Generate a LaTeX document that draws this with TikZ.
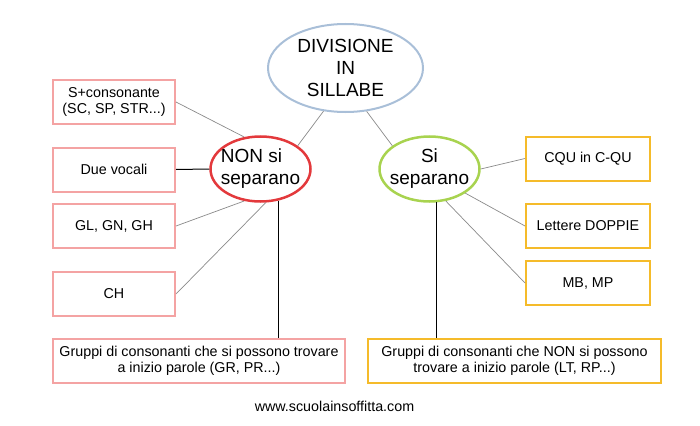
\documentclass[tikz,border=0pt]{standalone}
\usepackage{fontspec}
\setmainfont{Liberation Sans}
\usetikzlibrary{shapes.geometric}
\definecolor{azzurro}{HTML}{A9BFD8}
\definecolor{rosso}{HTML}{E3393C}
\definecolor{verde}{HTML}{A8D34F}
\definecolor{rosa}{HTML}{F4A3A3}
\definecolor{giallo}{HTML}{F5BB2A}
\definecolor{grigio}{HTML}{8A8A8A}
\begin{document}
\begin{tikzpicture}[x=1pt,y=-1pt]
    \tikzstyle{every node}=[inner sep=0pt, align=center, font=\fontsize{14.3}{16}\selectfont]
    \tikzstyle{bolla}=[ellipse, inner sep=-8pt, line width=2.5pt, minimum width=100pt, minimum height=65pt, font=\fontsize{19}{22}\selectfont]
    \tikzstyle{rosa}=[draw=rosa, line width=2pt, minimum width=122pt, minimum height=44pt]
    \tikzstyle{giallo}=[draw=giallo, line width=2pt, minimum width=124pt, minimum height=44pt]
    \tikzstyle{filo}=[draw=grigio, line width=0.7pt]
    \tikzstyle{asta}=[draw=black, line width=1pt]
    \useasboundingbox (0,0) rectangle (700,425);
    % ellissi
    \node[bolla, draw=azzurro, line width=2pt, minimum width=155pt, minimum height=88pt] (divisione) at (345.5,68) {DIVISIONE\\IN\\SILLABE};
    \node[bolla, draw=rosso, align=left] (non) at (260.5,169) {NON si\\separano};
    \node[bolla, draw=verde] (si) at (429.5,169) {Si\\separano};
    % riquadri a sinistra
    \node[rosa] (scons) at (114,102) {S+consonante\\(SC, SP, STR...)};
    \node[rosa] (vocali) at (114,169.5) {Due vocali};
    \node[rosa] (gl) at (114,226) {GL, GN, GH};
    \node[rosa] (ch) at (114,294) {CH};
    \node[rosa, minimum width=292pt] (gruppisi) at (199,361) {Gruppi di consonanti che si possono trovare\\a inizio parole (GR, PR...)};
    % riquadri a destra
    \node[giallo] (cqu) at (588,158.5) {CQU in C-QU};
    \node[giallo] (doppie) at (588,226) {Lettere DOPPIE};
    \node[giallo] (mb) at (588,283) {MB, MP};
    \node[giallo, minimum width=293pt] (gruppinon) at (514.5,361) {Gruppi di consonanti che NON si possono\\trovare a inizio parole (LT, RP...)};
    \node (sito) at (334.5,406) {www.scuolainsoffitta.com};
    % collegamenti
    \draw[filo] (divisione.243) -- (non.32);
    \draw[filo] (divisione.296) -- (si.148);
    \draw[filo] (scons.east) -- (non.117);
    \draw[asta] (vocali.east) -- (non.west);
    \draw[filo] (gl.east) -- (non.243);
    \draw[filo] (ch.east) -- (non.279);
    \draw[asta] (non.300) -- (non.300 |- gruppisi.north);
    \draw[filo] (si.east) -- (cqu.west);
    \draw[filo] (si.326) -- (doppie.west);
    \draw[filo] (si.297) -- (mb.west);
    \draw[asta] (si.281) -- (si.281 |- gruppinon.north);
\end{tikzpicture}
\end{document}
